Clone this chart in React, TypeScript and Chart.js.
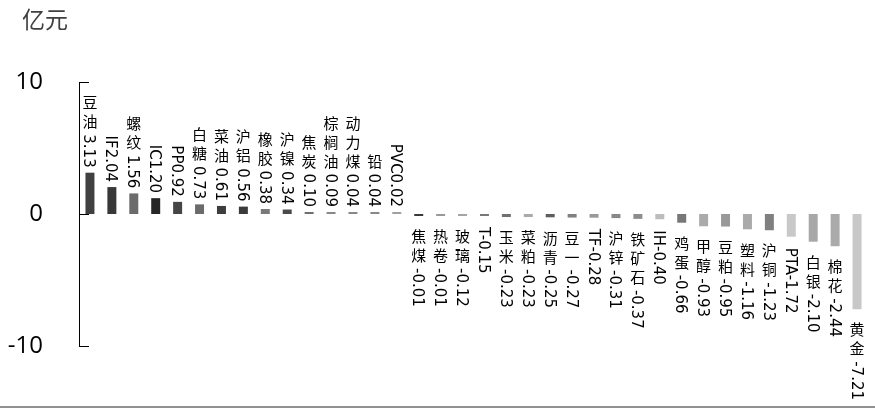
import { useEffect, useRef } from "react";
import { Chart, registerables } from "chart.js";

Chart.register(...registerables);

// 品种
const categories = [
  "豆油", "IF", "螺纹", "IC", "PP", "白糖", "菜油", "沪铝", "橡胶", "沪镍",
  "焦炭", "棕榈油", "动力煤", "铅", "PVC", "焦煤", "热卷", "玻璃", "T", "玉米",
  "菜粕", "沥青", "豆一", "TF", "沪锌", "铁矿石", "IH", "鸡蛋", "甲醇", "豆粕",
  "塑料", "沪铜", "PTA", "白银", "棉花", "黄金",
];

// 资金变化（亿元）
const values = [
  3.13, 2.04, 1.56, 1.2, 0.92, 0.73, 0.61, 0.56, 0.38, 0.34,
  0.1, 0.09, 0.04, 0.04, 0.02, -0.01, -0.01, -0.12, -0.15, -0.23,
  -0.23, -0.25, -0.27, -0.28, -0.31, -0.37, -0.4, -0.66, -0.93, -0.95,
  -1.16, -1.23, -1.72, -2.1, -2.44, -7.21,
];

const yTicks = [-10, 0, 10];
const unitLabel = "亿元";

const barColors = [
  "#404040", "#383838", "#6b6b6b", "#262626", "#454545", "#6b6b6b", "#3d3d3d", "#3b3b3b", "#7a7a7a", "#4a4a4a",
  "#6e6e6e", "#888888", "#888888", "#888888", "#a0a0a0", "#3a3a3a", "#999999", "#a5a5a5", "#777777", "#707070",
  "#aaaaaa", "#5e5e5e", "#808080", "#999999", "#888888", "#8c8c8c", "#bdbdbd", "#777777", "#aaaaaa", "#999999",
  "#aaaaaa", "#808080", "#c8c8c8", "#a8a8a8", "#aaaaaa", "#c8c8c8",
];

const CJK_FONT = '15px "Noto Sans CJK SC"';
const NUM_FONT = '15px "DejaVu Sans"';
const CJK_PITCH = 19;

const isCjk = (ch: string) => /[\u3400-\u9fff]/.test(ch);

const makeLabel = (name: string, v: number) => name + v.toFixed(2);

function splitRuns(text: string) {
  const runs: { cjk: boolean; text: string }[] = [];
  for (const ch of text) {
    const cjk = isCjk(ch);
    const last = runs[runs.length - 1];
    if (!cjk && last && !last.cjk) last.text += ch;
    else runs.push({ cjk, text: ch });
  }
  return runs;
}

// vertical text: CJK upright, latin rotated clockwise
function verticalText(ctx: CanvasRenderingContext2D, text: string, x: number, y0: number, draw: boolean) {
  let y = y0;
  let prevCjk = false;
  for (const run of splitRuns(text)) {
    if (run.cjk) {
      if (draw) {
        ctx.font = CJK_FONT;
        ctx.textAlign = "center";
        ctx.textBaseline = "middle";
        ctx.fillText(run.text, x, y + CJK_PITCH / 2);
      }
      y += CJK_PITCH;
    } else {
      if (prevCjk) y += 3;
      ctx.font = NUM_FONT;
      const w = ctx.measureText(run.text).width;
      if (draw) {
        ctx.save();
        ctx.translate(x, y);
        ctx.rotate(Math.PI / 2);
        ctx.textAlign = "left";
        ctx.textBaseline = "alphabetic";
        ctx.fillText(run.text, 0, 5.5);
        ctx.restore();
      }
      y += w;
    }
    prevCjk = run.cjk;
  }
  return y - y0;
}

const labelPlugin = {
  id: "verticalLabels",
  afterDatasetsDraw(chart: any) {
    const ctx = chart.ctx;
    const meta = chart.getDatasetMeta(0);
    ctx.save();
    ctx.fillStyle = "#000";
    meta.data.forEach((bar: any, i: number) => {
      const text = makeLabel(categories[i], values[i]);
      const len = verticalText(ctx, text, bar.x, 0, false);
      if (values[i] >= 0) {
        verticalText(ctx, text, bar.x, bar.y - 5 - len, true);
      } else {
        verticalText(ctx, text, bar.x, bar.y + 11, true);
      }
    });
    ctx.restore();
  },
  afterDraw(chart: any) {
    const ctx = chart.ctx;
    const y = chart.scales.y;
    const left = chart.chartArea.left;
    ctx.save();
    // inward tick marks
    ctx.strokeStyle = "#000";
    ctx.lineWidth = 1;
    yTicks.forEach((t) => {
      const py = Math.round(y.getPixelForValue(t)) + 0.5;
      ctx.beginPath();
      ctx.moveTo(left, py);
      ctx.lineTo(left + 10, py);
      ctx.stroke();
    });
    // unit
    ctx.fillStyle = "#404040";
    ctx.font = '23px "Noto Sans CJK SC"';
    ctx.textAlign = "left";
    ctx.textBaseline = "middle";
    ctx.fillText(unitLabel, 22, 19);
    // bottom frame line
    ctx.fillStyle = "#909090";
    ctx.fillRect(0, 406, chart.width, 2);
    ctx.restore();
  },
};

export default function App() {
  const canvasRef = useRef<HTMLCanvasElement | null>(null);
  const chartRef = useRef<Chart | null>(null);

  useEffect(() => {
    if (!canvasRef.current) return;
    if (chartRef.current) chartRef.current.destroy();
    chartRef.current = new Chart(canvasRef.current, {
      type: "bar",
      data: {
        labels: categories,
        datasets: [
          {
            data: values,
            backgroundColor: barColors,
            borderWidth: 0,
            minBarLength: 2,
            barPercentage: 0.41,
            categoryPercentage: 1,
          },
        ],
      },
      options: {
        responsive: false,
        animation: false,
        layout: { padding: { top: 82, bottom: 62, left: 0, right: 7 } },
        plugins: {
          legend: { display: false },
          tooltip: { enabled: false },
        },
        scales: {
          x: { display: false },
          y: {
            min: -10,
            max: 10,
            afterFit: (scale: any) => {
              scale.width = 79;
            },
            afterBuildTicks: (scale: any) => {
              scale.ticks = yTicks.map((v) => ({ value: v }));
            },
            ticks: {
              color: "#000",
              padding: 36,
              font: { family: "Open Sans", size: 24 },
            },
            grid: { display: false, drawTicks: false },
            border: { display: true, color: "#000", width: 1 },
          },
        },
      },
      plugins: [labelPlugin],
    });
    return () => {
      if (chartRef.current) {
        chartRef.current.destroy();
        chartRef.current = null;
      }
    };
  }, []);

  return (
    <div style={{ position: "absolute", left: 0, top: 0, width: 875, height: 408, background: "#fff" }}>
      <canvas ref={canvasRef} width={875} height={408} />
    </div>
  );
}
